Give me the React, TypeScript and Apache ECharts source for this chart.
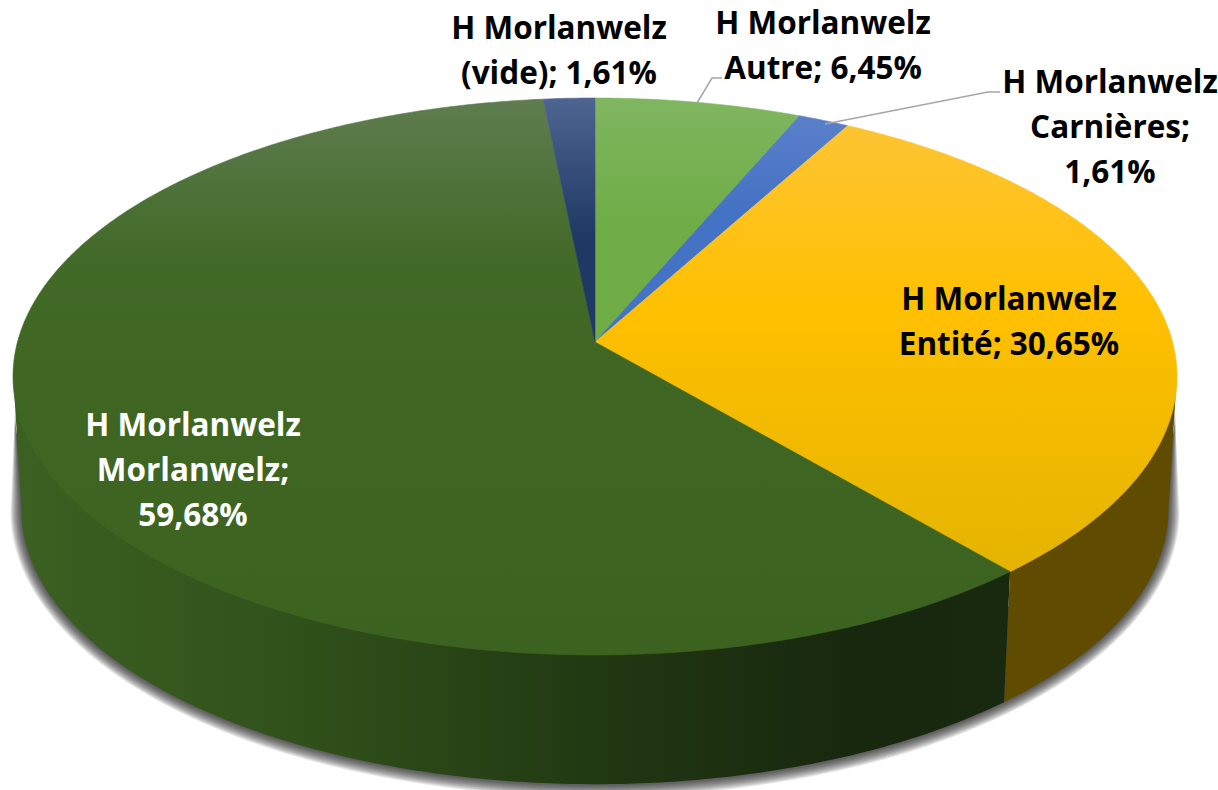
import React, { useEffect, useRef } from "react";
import * as echarts from "echarts";

const categories = [
  "H Morlanwelz Autre",
  "H Morlanwelz Carnières",
  "H Morlanwelz Entité",
  "H Morlanwelz Morlanwelz",
  "H Morlanwelz (vide)",
];
const percents = [6.45, 1.61, 30.65, 59.68, 1.61];
const labelTexts = [
  "H Morlanwelz\nAutre; 6,45%",
  "H Morlanwelz\nCarnières;\n1,61%",
  "H Morlanwelz\nEntité; 30,65%",
  "H Morlanwelz\nMorlanwelz;\n59,68%",
  "H Morlanwelz\n(vide); 1,61%",
];

// Style & layout (kept apart from the data)
const topStops = [
  [[0, "#80b660"], [0.22, "#70ad47"], [1, "#70ad47"]],
  [[0, "#5f82cb"], [0.2, "#4472c4"], [1, "#4472c4"]],
  [[0, "#fdc53a"], [0.38, "#ffc000"], [0.85, "#e4b400"], [1, "#dcae00"]],
  [[0, "#5f7d50"], [0.28, "#426a28"], [0.5, "#3f6622"], [1, "#3c6220"]],
  [[0, "#4f6591"], [0.25, "#203864"], [1, "#203864"]],
];
const sideStops = [
  [[0, "#3b5f20"], [1, "#3b5f20"]],
  [[0, "#203864"], [1, "#203864"]],
  [[0, "#5f4a00"], [1, "#604c00"]],
  [[0, "#3b6021"], [0.25, "#30501a"], [0.52, "#203712"], [0.72, "#18280e"], [1, "#1a2a10"]],
  [[0, "#203864"], [1, "#203864"]],
];
const labelPos = [
  [823, 44, "#000000"],
  [1110, 125, "#000000"],
  [1009, 320, "#000000"],
  [193, 468, "#ffffff"],
  [559, 49, "#000000"],
];

const TOP = { cx: 595, cy: 342, q: 577.5, p: 274.2, k: 0.1239 };
const SIDE_TOP = { ...TOP, cy: 339 };
const BASE = { cx: 595, cy: 476, q: 569, p: 270, k: 0.1239 };
const SHADOW_TOP = { cx: 595, cy: 378, q: 575.5, p: 273, k: 0.1239 };
// the part of the rim that faces the viewer
const FRONT_START = Math.acos(-TOP.k);
const FRONT_END = Math.PI * 2 - FRONT_START;
// soft shadow: stacked translucent outlines, from widest to narrowest
const SHADOW_GROW = [11, 10, 9, 8, 7, 6, 5, 4, 3, 2, 1, 0];

function project(d: typeof TOP, t: number) {
  const X = Math.sin(t);
  const Y = Math.cos(t);
  const w = 1 + d.k * Y;
  return [d.cx + (d.q * X) / w, d.cy - (d.p * Y) / w];
}
function arcPts(d: typeof TOP, a: number, b: number) {
  const n = Math.max(2, Math.ceil((b - a) / 0.01));
  const pts: number[][] = [];
  for (let i = 0; i <= n; i++) pts.push(project(d, a + ((b - a) * i) / n));
  return pts;
}
function angles(i: number) {
  const tot = percents.reduce((s, v) => s + v, 0);
  const before = percents.slice(0, i).reduce((s, v) => s + v, 0);
  return [
    (before / tot) * Math.PI * 2,
    ((before + percents[i]) / tot) * Math.PI * 2,
  ];
}
function grad(x0: number, y0: number, x1: number, y1: number, stops: any[]) {
  return new echarts.graphic.LinearGradient(
    x0, y0, x1, y1,
    stops.map(([offset, color]) => ({ offset, color })),
    true,
  );
}

export default function App() {
  const ref = useRef<HTMLDivElement>(null);
  useEffect(() => {
    const chart = echarts.init(ref.current!, null, { renderer: "svg" });
    const data = percents.map((value, i) => ({ name: categories[i], value }));
    chart.setOption({
      animation: false,
      backgroundColor: "#ffffff",
      series: [
        {
          type: "custom",
          coordinateSystem: "none",
          data: SHADOW_GROW,
          silent: true,
          z: 1,
          renderItem: (params: any) => {
            const g = SHADOW_GROW[params.dataIndex];
            const base = { ...BASE, q: BASE.q + g, p: BASE.p + g };
            return {
              type: "polygon",
              shape: {
                points: [
                  ...arcPts(SHADOW_TOP, FRONT_START, FRONT_END),
                  ...arcPts(base, FRONT_START, FRONT_END).reverse(),
                ],
              },
              style: { fill: "rgba(40,40,40,0.11)" },
            };
          },
        },
        {
          type: "custom",
          coordinateSystem: "none",
          data,
          silent: true,
          z: 2,
          renderItem: (params: any) => {
            const i = params.dataIndex;
            const [a0, b0] = angles(i);
            const a = Math.max(a0, FRONT_START);
            const b = Math.min(b0, FRONT_END);
            if (b <= a) return null;
            return {
              type: "polygon",
              shape: {
                points: [...arcPts(SIDE_TOP, a, b), ...arcPts(BASE, a, b).reverse()],
              },
              style: { fill: grad(25, 0, 1168, 0, sideStops[i]) },
            };
          },
        },
        {
          type: "custom",
          coordinateSystem: "none",
          data,
          silent: true,
          z: 3,
          renderItem: (params: any) => {
            const i = params.dataIndex;
            const [a, b] = angles(i);
            const g = grad(0, 98, 0, 655, topStops[i]);
            return {
              type: "polygon",
              shape: { points: [[TOP.cx, TOP.cy], ...arcPts(TOP, a, b)] },
              style: { fill: g, stroke: g, lineWidth: 0.6 },
            };
          },
        },
      ],
      graphic: [
        {
          type: "polyline",
          z: 10,
          shape: { points: [[697, 103], [712, 78], [722, 78]] },
          style: { stroke: "#a6a6a6", lineWidth: 1.5, fill: "none" },
        },
        {
          type: "polyline",
          z: 10,
          shape: { points: [[825, 124], [988, 92], [1000, 92]] },
          style: { stroke: "#a6a6a6", lineWidth: 1.5, fill: "none" },
        },
        ...labelTexts.map((text, i) => ({
          type: "text",
          z: 11,
          x: labelPos[i][0] as number,
          y: labelPos[i][1] as number,
          style: {
            text,
            fill: labelPos[i][2] as string,
            font: '700 31.5px "Open Sans"',
            lineHeight: 45,
            align: "center",
            verticalAlign: "middle",
          },
        })),
      ],
    });
    return () => chart.dispose();
  }, []);
  return (
    <div
      ref={ref}
      style={{ position: "fixed", left: 0, top: 0, width: 1218, height: 790 }}
    />
  );
}
